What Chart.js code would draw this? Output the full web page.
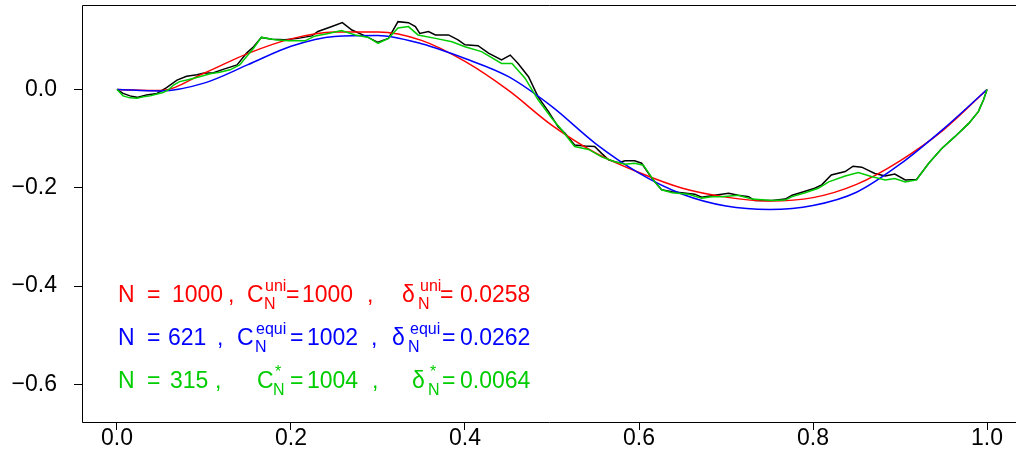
<!DOCTYPE html>
<html>
<head>
<meta charset="utf-8">
<script src="https://cdn.jsdelivr.net/npm/chart.js@4.4.1/dist/chart.umd.min.js"></script>
<style>
body { margin: 0; background: #fff; overflow: hidden; }
</style>
</head>
<body>
<canvas id="chart1" width="1016" height="463"></canvas>
<script>
// smooth fits on a 0.05 grid
const smoothX = [0, 0.05, 0.10, 0.15, 0.20, 0.25, 0.30, 0.35, 0.40, 0.45, 0.50, 0.55, 0.60, 0.65, 0.70, 0.75, 0.80, 0.85, 0.90, 0.95, 1.00];
const redY = [0, -0.002, 0.033, 0.073, 0.103, 0.117, 0.117, 0.100, 0.057, -0.002, -0.073, -0.129, -0.169, -0.201, -0.219, -0.227, -0.220, -0.193, -0.145, -0.082, 0];
const blueY = [0, -0.003, 0.013, 0.050, 0.088, 0.108, 0.110, 0.093, 0.063, 0.026, -0.035, -0.110, -0.170, -0.213, -0.237, -0.244, -0.236, -0.209, -0.152, -0.080, 0];

// noisy curves
const blackX = [0, 0.007, 0.015, 0.023, 0.034, 0.046, 0.057, 0.069, 0.080, 0.092, 0.099, 0.111, 0.122, 0.138, 0.149, 0.157, 0.166, 0.178, 0.193, 0.208, 0.224, 0.231, 0.247, 0.259, 0.270, 0.285, 0.300, 0.312, 0.323, 0.335, 0.343, 0.348, 0.358, 0.366, 0.381, 0.392, 0.400, 0.415, 0.427, 0.442, 0.452, 0.461, 0.473, 0.484, 0.496, 0.507, 0.515, 0.526, 0.538, 0.549, 0.557, 0.565, 0.576, 0.584, 0.595, 0.603, 0.615, 0.626, 0.638, 0.649, 0.664, 0.672, 0.687, 0.703, 0.714, 0.726, 0.733, 0.753, 0.768, 0.776, 0.791, 0.802, 0.810, 0.821, 0.837, 0.846, 0.856, 0.871, 0.883, 0.894, 0.906, 0.919, 0.933, 0.948, 0.963, 0.979, 0.990, 0.996, 1.000];
const blackY = [0, -0.008, -0.013, -0.016, -0.011, -0.008, 0.004, 0.019, 0.027, 0.030, 0.033, 0.034, 0.041, 0.050, 0.074, 0.087, 0.106, 0.102, 0.101, 0.104, 0.109, 0.118, 0.128, 0.136, 0.121, 0.109, 0.096, 0.104, 0.138, 0.136, 0.128, 0.114, 0.118, 0.111, 0.111, 0.101, 0.091, 0.089, 0.074, 0.060, 0.070, 0.053, 0.026, -0.015, -0.045, -0.076, -0.089, -0.113, -0.115, -0.116, -0.130, -0.143, -0.149, -0.145, -0.145, -0.150, -0.181, -0.204, -0.208, -0.210, -0.213, -0.219, -0.215, -0.211, -0.215, -0.218, -0.226, -0.226, -0.223, -0.215, -0.207, -0.201, -0.194, -0.174, -0.167, -0.156, -0.158, -0.171, -0.176, -0.172, -0.184, -0.183, -0.150, -0.120, -0.096, -0.069, -0.045, -0.021, 0];
const greenX = [0, 0.007, 0.015, 0.023, 0.030, 0.038, 0.046, 0.053, 0.059, 0.065, 0.072, 0.084, 0.095, 0.107, 0.118, 0.130, 0.141, 0.149, 0.157, 0.166, 0.182, 0.197, 0.216, 0.228, 0.243, 0.258, 0.274, 0.289, 0.300, 0.312, 0.323, 0.335, 0.346, 0.366, 0.385, 0.400, 0.419, 0.442, 0.454, 0.469, 0.484, 0.500, 0.511, 0.515, 0.526, 0.542, 0.557, 0.572, 0.584, 0.595, 0.605, 0.618, 0.626, 0.638, 0.657, 0.672, 0.684, 0.695, 0.714, 0.730, 0.753, 0.768, 0.776, 0.791, 0.806, 0.818, 0.837, 0.852, 0.867, 0.883, 0.894, 0.906, 0.919, 0.933, 0.948, 0.963, 0.979, 0.990, 0.996, 1.000];
const greenY = [0, -0.013, -0.017, -0.018, -0.015, -0.013, -0.009, -0.006, -0.001, 0.009, 0.016, 0.021, 0.026, 0.032, 0.035, 0.040, 0.050, 0.067, 0.084, 0.106, 0.101, 0.099, 0.099, 0.109, 0.114, 0.120, 0.111, 0.106, 0.094, 0.104, 0.125, 0.128, 0.111, 0.104, 0.097, 0.087, 0.077, 0.053, 0.053, 0.023, -0.021, -0.059, -0.082, -0.091, -0.116, -0.122, -0.137, -0.147, -0.152, -0.150, -0.154, -0.188, -0.204, -0.210, -0.213, -0.221, -0.218, -0.218, -0.215, -0.223, -0.226, -0.225, -0.218, -0.210, -0.201, -0.188, -0.176, -0.169, -0.177, -0.184, -0.181, -0.188, -0.184, -0.150, -0.120, -0.096, -0.069, -0.045, -0.021, 0];

const xTicks = [0, 0.2, 0.4, 0.6, 0.8, 1.0];
const yTicks = [-0.6, -0.4, -0.2, 0];

const FONT = "'Liberation Sans', Arial, Helvetica, sans-serif";

// annotation text: [text, x, kind]
const annoLines = [
  { color: '#FF0000', y: 302, parts: [['N', 118, 'm'], ['=', 147, 'm'], ['1000', 172, 'm'], [',', 228, 'm'], ['C', 247, 'm'], ['uni', 265, 'sup'], ['N', 264, 'sub'], ['=', 286, 'm'], ['1000', 302, 'm'], [',', 367, 'm'], ['\u03B4', 402, 'm'], ['uni', 420, 'sup'], ['N', 418, 'sub'], ['=', 440, 'm'], ['0.0258', 460, 'm']] },
  { color: '#0000FF', y: 345, parts: [['N', 118, 'm'], ['=', 147, 'm'], ['621', 168, 'm'], [',', 217, 'm'], ['C', 237, 'm'], ['equi', 256, 'sup'], ['N', 255, 'sub'], ['=', 290, 'm'], ['1002', 307, 'm'], [',', 371, 'm'], ['\u03B4', 392, 'm'], ['equi', 410, 'sup'], ['N', 408, 'sub'], ['=', 442, 'm'], ['0.0262', 460, 'm']] },
  { color: '#00CD00', y: 388, parts: [['N', 118, 'm'], ['=', 147, 'm'], ['315', 170, 'm'], [',', 215, 'm'], ['C', 257, 'm'], ['*', 275, 'sup'], ['N', 273, 'sub'], ['=', 290, 'm'], ['1004', 307, 'm'], [',', 372, 'm'], ['\u03B4', 412, 'm'], ['*', 430, 'sup'], ['N', 428, 'sub'], ['=', 442, 'm'], ['0.0064', 460, 'm']] }
];

const pts = (xs, ys) => xs.map((x, i) => ({ x: x, y: ys[i] }));

const boxPlugin = {
  id: 'box',
  afterDraw(chart) {
    const { ctx, chartArea } = chart;
    ctx.save();
    ctx.strokeStyle = '#000';
    ctx.lineWidth = 1;
    ctx.beginPath();
    ctx.moveTo(chart.width, chartArea.top + 0.5);
    ctx.lineTo(chartArea.left + 0.5, chartArea.top + 0.5);
    ctx.lineTo(chartArea.left + 0.5, chartArea.bottom + 0.5);
    ctx.lineTo(chart.width, chartArea.bottom + 0.5);
    ctx.stroke();
    ctx.textBaseline = 'alphabetic';
    ctx.textAlign = 'left';
    annoLines.forEach(line => {
      ctx.fillStyle = line.color;
      line.parts.forEach(p => {
        if (p[2] === 'm') {
          ctx.font = '23px ' + FONT;
          ctx.fillText(p[0], p[1], line.y);
        } else if (p[2] === 'sup') {
          ctx.font = '16px ' + FONT;
          ctx.fillText(p[0], p[1], line.y - 11);
        } else {
          ctx.font = '16px ' + FONT;
          ctx.fillText(p[0], p[1], line.y + 7);
        }
      });
    });
    ctx.restore();
  }
};

new Chart(document.getElementById('chart1'), {
  type: 'scatter',
  data: {
    datasets: [
      { data: pts(blackX, blackY), borderColor: '#000000', order: 4 },
      { data: pts(smoothX, redY), borderColor: '#FF0000', cubicInterpolationMode: 'monotone', order: 3 },
      { data: pts(smoothX, blueY), borderColor: '#0000FF', cubicInterpolationMode: 'monotone', order: 2 },
      { data: pts(greenX, greenY), borderColor: '#00CD00', order: 1 }
    ]
  },
  options: {
    responsive: false,
    animation: false,
    showLine: true,
    elements: {
      point: { radius: 0 },
      line: { borderWidth: 1.5, fill: false }
    },
    layout: { padding: { top: 5, left: 0, right: 0, bottom: 0 } },
    plugins: { legend: { display: false }, tooltip: { enabled: false } },
    scales: {
      x: {
        type: 'linear',
        min: -0.0402,
        max: 1.0333,
        afterBuildTicks: s => { s.ticks = xTicks.map(v => ({ value: v })); },
        afterFit: s => { s.height = 41; s.paddingLeft = 0; s.paddingRight = 0; },
        ticks: {
          color: '#000',
          font: { family: FONT, size: 23, lineHeight: 1 },
          padding: -3,
          maxRotation: 0,
          callback: v => v.toFixed(1)
        },
        grid: { display: true, drawOnChartArea: false, drawTicks: true, tickLength: 8, color: '#000' },
        border: { display: false }
      },
      y: {
        min: -0.6765,
        max: 0.1719,
        afterBuildTicks: s => { s.ticks = yTicks.map(v => ({ value: v })); },
        afterFit: s => { s.width = 82; s.paddingTop = 0; s.paddingBottom = 0; },
        ticks: {
          color: '#000',
          font: { family: FONT, size: 23 },
          padding: 17,
          callback: v => (v < 0 ? '\u2212' : '') + Math.abs(v).toFixed(1)
        },
        grid: { display: true, drawOnChartArea: false, drawTicks: true, tickLength: 8, color: '#000' },
        border: { display: false }
      }
    }
  },
  plugins: [boxPlugin]
});
</script>
</body>
</html>
